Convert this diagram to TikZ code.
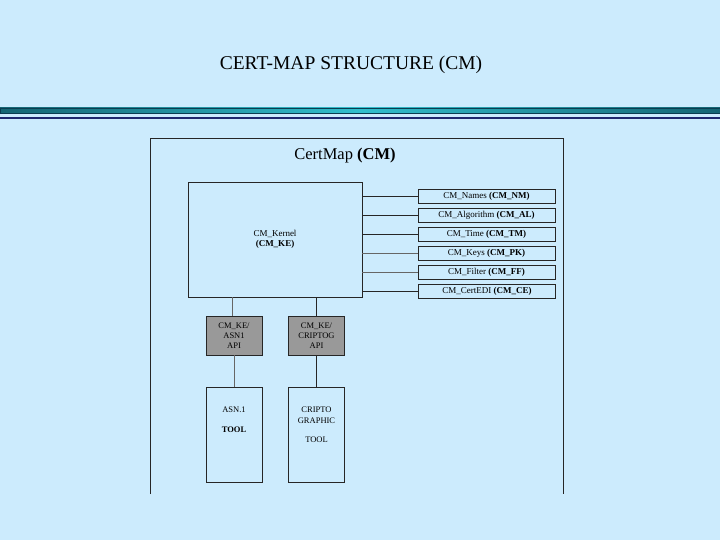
\documentclass[tikz,border=0pt]{standalone}
\usepackage{fontspec}
\setmainfont{Liberation Serif}
\definecolor{bg}{RGB}{204,235,253}
\definecolor{tealdark}{RGB}{20,100,115}
\definecolor{teallight}{RGB}{50,190,205}
\definecolor{tealedge}{RGB}{10,60,80}
\definecolor{navy}{RGB}{30,40,110}
\begin{document}
\begin{tikzpicture}[x=1pt,y=-1pt,
  box/.style={draw=black!85,line width=0.6pt,fill=none,inner sep=0pt,align=center,font=\fontsize{9}{10}\selectfont},
  mod/.style={box,minimum width=137pt,minimum height=14pt},
  api/.style={box,fill=black!40,minimum width=56pt,minimum height=39pt,font=\fontsize{8.5}{10}\selectfont},
  tool/.style={box,minimum width=56pt,minimum height=95pt,anchor=north},
  tooltext/.style={anchor=north,inner sep=0pt,align=center,font=\fontsize{8.5}{10.5}\selectfont},
  link/.style={draw=black!85,line width=0.6pt},
  glink/.style={draw=gray!80!black,line width=1pt}]
\fill[bg] (0,0) rectangle (720,540);
\useasboundingbox (0,0) rectangle (720,540);
\node (title) at (351,65) {\fontsize{19.5}{22}\selectfont CERT-MAP STRUCTURE (CM)};
\shade[left color=tealdark,right color=tealdark,middle color=teallight] (0,108) rectangle (720,113);
\draw[tealedge,line width=0.6pt] (0,108) rectangle (720,113);
\fill[navy] (0,117) rectangle (720,119.5);
\draw[link] (150,494) -- (150,138) -- (563,138) -- (563,494);
\node (cm) at (345,156) {\fontsize{16.5}{18}\selectfont CertMap \textbf{(CM)}};
\node[box,minimum width=174pt,minimum height=115pt] (ke) at (275,239.5) {CM\_Kernel\\\textbf{(CM\_KE)}};
\node[mod] (nm) at (486.5,196) {CM\_Names \textbf{(CM\_NM)}};
\node[mod] (al) at (486.5,215) {CM\_Algorithm \textbf{(CM\_AL)}};
\node[mod] (tm) at (486.5,234) {CM\_Time \textbf{(CM\_TM)}};
\node[mod] (pk) at (486.5,253) {CM\_Keys \textbf{(CM\_PK)}};
\node[mod] (ff) at (486.5,272) {CM\_Filter \textbf{(CM\_FF)}};
\node[mod] (ce) at (487,291.5) {CM\_CertEDI \textbf{(CM\_CE)}};
\foreach \n in {nm,al,tm,ce} \draw[link] (\n.west) -- (\n.west -| ke.east);
\foreach \n in {pk,ff} \draw[glink,line width=0.6pt] (\n.west) -- (\n.west -| ke.east);
\node[api] (a1) at (234,335.5) {CM\_KE/\\ASN1\\API};
\node[api] (a2) at (316.5,335.5) {CM\_KE/\\CRIPTOG\\API};
\node[tool] (t1) at (234,387) {};
\node[tool] (t2) at (316.5,387) {};
\node[tooltext] (t1t) at (234,407) {ASN.1\\[9pt]\textbf{TOOL}};
\node[tooltext] (t2t) at (316.5,407) {CRIPTO\\GRAPHIC\\[9pt]TOOL};
\draw[glink] (a1.north -| 232,0) -- (232,297);
\draw[link] (a2.north) -- (a2.north |- ke.south);
\draw[glink] (a1.south) -- (t1.north);
\draw[link] (a2.south) -- (t2.north);
\end{tikzpicture}
\end{document}
